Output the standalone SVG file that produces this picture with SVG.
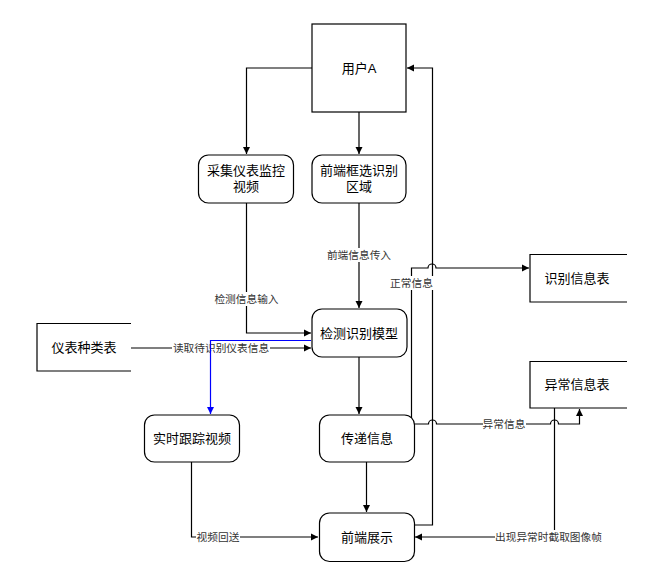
<svg xmlns="http://www.w3.org/2000/svg" width="672" height="584" viewBox="0 0 672 584">
<defs>
<marker id="ah" markerWidth="8" markerHeight="8" refX="7" refY="4" orient="auto" markerUnits="userSpaceOnUse">
<path d="M0,0.5 L7,4 L0,7.5 Z" fill="#000"/>
</marker>
<marker id="ahb" markerWidth="8" markerHeight="8" refX="7" refY="4" orient="auto" markerUnits="userSpaceOnUse">
<path d="M0,0.5 L7,4 L0,7.5 Z" fill="#0000ff"/>
</marker>
<style>
.box{fill:#fff;stroke:#000;stroke-width:1.2}
.t{font-family:"Liberation Sans","Noto Sans CJK SC",sans-serif;font-size:13px;fill:#000;text-anchor:middle;dominant-baseline:central}
.l{font-family:"Liberation Sans","Noto Sans CJK SC",sans-serif;font-size:10.7px;fill:#333;text-anchor:middle;dominant-baseline:central}
.c{fill:none;stroke:#000;stroke-width:1.2}
.lb{fill:#fff}
</style>
</defs>
<rect width="672" height="584" fill="#fff"/>
<g id="connectors">
<path class="c" d="M312,68 H246.5 V154" marker-end="url(#ah)"/>
<path class="c" d="M359,112 V154" marker-end="url(#ah)"/>
<path class="c" d="M246.5,203 V333 H311" marker-end="url(#ah)"/>
<path class="c" d="M359,203 V308" marker-end="url(#ah)"/>
<path class="c" d="M131,348 H311" marker-end="url(#ah)"/>
<path class="c" d="M359,357 V414" marker-end="url(#ah)"/>
<path class="c" d="M411.5,418 V268 H428 a4,4 0 0 1 8,0 H529" marker-end="url(#ah)"/>
<path class="c" d="M414,525 H432.5 V68 H407" marker-end="url(#ah)"/>
<path class="c" d="M414,424 H428.5 a4,4 0 0 1 8,0 H550.5 a4,4 0 0 1 8,0 H579.5 V409" marker-end="url(#ah)"/>
<path class="c" d="M366.5,462 V512" marker-end="url(#ah)"/>
<path class="c" d="M554.5,408 V537 H415" marker-end="url(#ah)"/>
<path class="c" d="M191.5,462 V537 H318" marker-end="url(#ah)"/>
<g id="labels">
<rect class="lb" x="213" y="292" width="67" height="14"/>
<text class="l" x="246.5" y="299">检测信息输入</text>
<rect class="lb" x="326" y="248" width="66" height="14"/>
<text class="l" x="359" y="255">前端信息传入</text>
<rect class="lb" x="172" y="341" width="98" height="14"/>
<text class="l" x="221" y="348">读取待识别仪表信息</text>
<rect class="lb" x="390" y="276" width="44" height="14"/>
<text class="l" x="411.5" y="283">正常信息</text>
<rect class="lb" x="483" y="417" width="43" height="14"/>
<text class="l" x="504" y="424">异常信息</text>
<rect class="lb" x="495" y="530" width="107" height="14"/>
<text class="l" x="548.5" y="537">出现异常时截取图像帧</text>
<rect class="lb" x="196" y="530" width="44" height="14"/>
<text class="l" x="218" y="537">视频回送</text>
</g>
<path d="M311,340.5 H210.5 V414" stroke="#0000ff" fill="none" stroke-width="1.2" marker-end="url(#ahb)"/>
</g>
<g id="user">
<rect class="box" x="312" y="24" width="94" height="88"/>
<text class="t" x="359" y="68">用户A</text>
</g>
<g id="collect">
<rect class="box" x="198.5" y="155" width="95" height="48" rx="10"/>
<text class="t" x="246" y="170">采集仪表监控</text>
<text class="t" x="246" y="186">视频</text>
</g>
<g id="select">
<rect class="box" x="312" y="155" width="94" height="48" rx="10"/>
<text class="t" x="359" y="170">前端框选识别</text>
<text class="t" x="359" y="186">区域</text>
</g>
<g id="model">
<rect class="box" x="312" y="309" width="95" height="48" rx="10"/>
<text class="t" x="359" y="333">检测识别模型</text>
</g>
<g id="meterTypes">
<path class="box" d="M131,323.5 H37 V371 H131"/>
<text class="t" x="84" y="347">仪表种类表</text>
</g>
<g id="recogTable">
<path class="box" d="M627,254.5 H530 V302 H627"/>
<text class="t" x="577" y="278">识别信息表</text>
</g>
<g id="abnormalTable">
<path class="box" d="M627,361.5 H530 V408 H627"/>
<text class="t" x="577" y="384">异常信息表</text>
</g>
<g id="tracking">
<rect class="box" x="144.5" y="415" width="95" height="47" rx="10"/>
<text class="t" x="192" y="438">实时跟踪视频</text>
</g>
<g id="transfer">
<rect class="box" x="319.5" y="415" width="95" height="47" rx="10"/>
<text class="t" x="367" y="438">传递信息</text>
</g>
<g id="display">
<rect class="box" x="319.5" y="513" width="95" height="48.5" rx="10"/>
<text class="t" x="367" y="537">前端展示</text>
</g>
</svg>
